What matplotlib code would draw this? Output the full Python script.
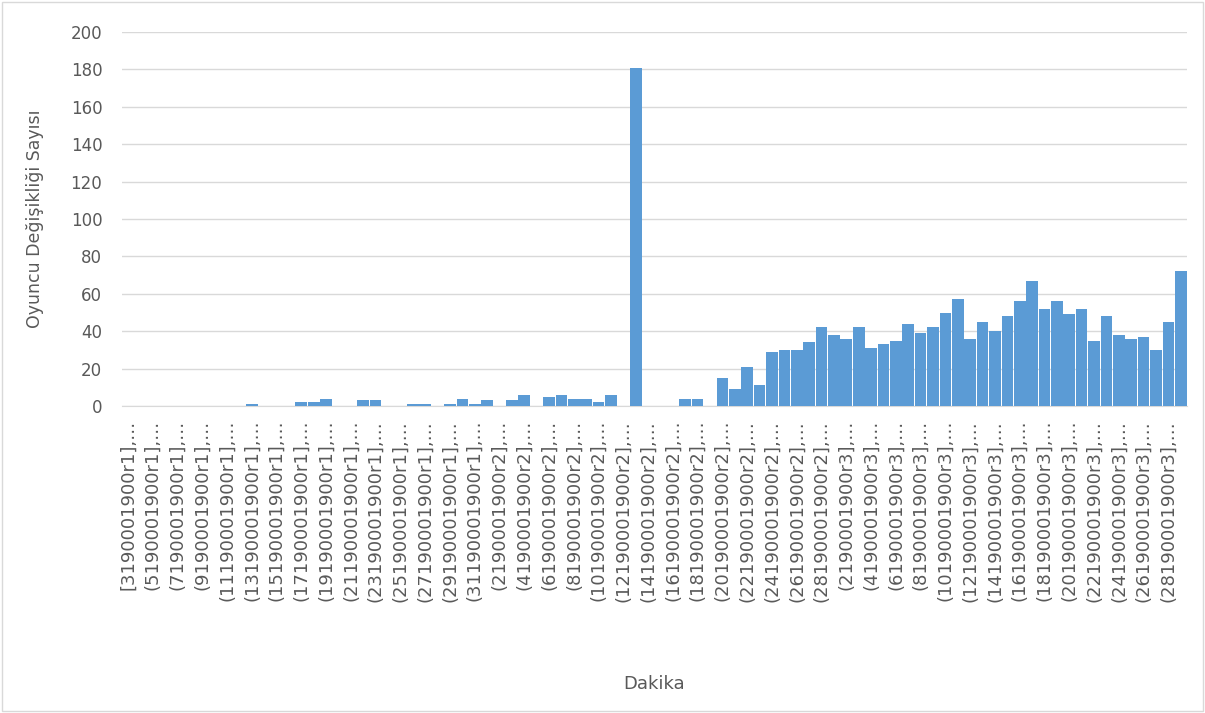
import matplotlib
matplotlib.use("Agg")
import matplotlib.pyplot as plt
from matplotlib.patches import Rectangle
import numpy as np

# Dakika etiketleri (devre 1: 3-32, devre 2 ve 3: 2-29)
dakika_r1 = list(range(3, 33))
dakika_r2 = list(range(2, 30))
dakika_r3 = list(range(2, 30))

# Her dakikadaki oyuncu değişikliği sayısı
degisiklik_r1 = [0, 0, 0, 0, 0, 0, 0, 0, 0, 0,
                 1, 0, 0, 0, 2, 2, 4, 0, 0, 3,
                 3, 0, 0, 1, 1, 0, 1, 4, 1, 3]
degisiklik_r2 = [0, 3, 6, 0, 5, 6, 4, 4, 2, 6,
                 0, 181, 0, 0, 0, 4, 4, 0, 15, 9,
                 21, 11, 29, 30, 30, 34, 42, 38]
degisiklik_r3 = [36, 42, 31, 33, 35, 44, 39, 42, 50, 57,
                 36, 45, 40, 48, 56, 67, 52, 56, 49, 52,
                 35, 48, 38, 36, 37, 30, 45, 72]

etiketler = []
for devre, dakikalar in [(1, dakika_r1), (2, dakika_r2), (3, dakika_r3)]:
    for d in dakikalar:
        ac = "[" if (devre == 1 and d == 3) else "("
        etiketler.append(f"{ac}{d}190001900r{devre}],…")
degerler = degisiklik_r1 + degisiklik_r2 + degisiklik_r3

plt.rcParams['font.family'] = ['DejaVu Sans']
gri = "#595959"

fig = plt.figure(figsize=(12.05, 7.13), dpi=100)
fig.patches.append(Rectangle((0.002, 0.003), 0.996, 0.994, transform=fig.transFigure,
                             fill=False, edgecolor="#D9D9D9", linewidth=1))
ax = fig.add_axes([0.101, 0.4306, 0.884, 0.5244])

x = np.arange(len(degerler))
ax.bar(x, degerler, width=0.94, color="#5B9BD5", zorder=3)

ax.set_xlim(-0.5, len(degerler) - 0.5)
ax.set_ylim(0, 200)
ax.set_yticks(range(0, 201, 20))
ax.grid(axis="y", color="#D9D9D9", linewidth=1, zorder=0)

ax.set_xticks(x[::2])
ax.set_xticklabels(etiketler[::2], rotation=90, fontsize=13, color=gri)
ax.tick_params(axis="x", length=0, pad=10)
ax.tick_params(axis="y", length=0, labelsize=12, labelcolor=gri, pad=14)

for s in ["top", "right", "left"]:
    ax.spines[s].set_visible(False)
ax.spines["bottom"].set_color("#D9D9D9")

ax.set_ylabel("Oyuncu Değişikliği Sayısı", fontsize=12.5, color=gri)
ax.yaxis.set_label_coords(-0.073, 0.5)
fig.text(0.543, 0.04, "Dakika", fontsize=13, color=gri, ha="center", va="center")

fig.savefig("out.png", dpi=100)
